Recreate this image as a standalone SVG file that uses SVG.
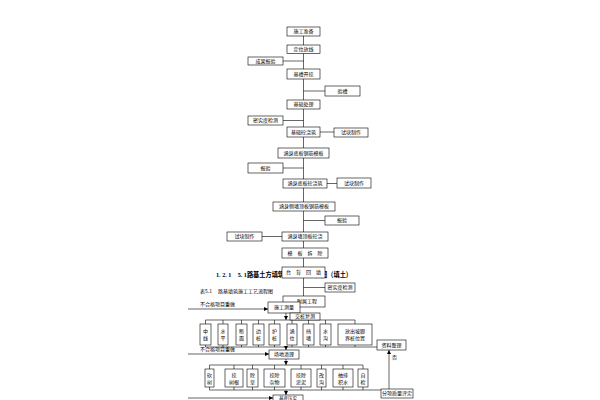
<svg xmlns="http://www.w3.org/2000/svg" width="600" height="400" viewBox="0 0 600 400">
<defs>
<marker id="ah" markerWidth="4" markerHeight="4" refX="4" refY="2" orient="auto" markerUnits="userSpaceOnUse"><path d="M0,0 L4,2 L0,4 Z" fill="#000"/></marker>
<style>
.b{fill:#fff;stroke:#000;stroke-width:0.6}
.t{font-family:"Noto Sans CJK SC","Liberation Sans",sans-serif;font-size:5px;fill:#000;text-anchor:middle}
.l{font-family:"Noto Sans CJK SC","Liberation Sans",sans-serif;font-size:5px;fill:#000}
.c{fill:none;stroke:#000;stroke-width:0.6}
.h{font-family:"Liberation Serif","Noto Sans CJK SC",serif;font-size:7px;font-weight:bold;fill:#000}
</style>
</defs>
<rect width="600" height="400" fill="#fff"/>
<g id="connectors">
<path class="c" d="M303.5,36 V296"/>
<path class="c" d="M283,61 H303.5 M303.5,91 H325 M283,120.5 H303.5 M320,132 H334 M283,168 H303.5 M327,183.5 H337 M303.5,220.5 H325 M262,236.5 H282 M303.5,287.5 H325"/>
<path class="c" d="M188,309 H268" marker-end="url(#ah)"/>
<path class="c" d="M286,313 V320" marker-end="url(#ah)"/>
<path class="c" d="M205.5,320 H355"/>
<path class="c" d="M205.5,320 V324 M223,320 V324 M241.5,320 V324 M258.5,320 V324 M274.5,320 V324 M292,320 V324 M308.5,320 V324 M325.5,320 V324 M355,320 V324"/>
<path class="c" d="M205.5,345 V347 M223,345 V347 M241.5,345 V347 M258.5,345 V347 M274.5,345 V347 M292,345 V347 M308.5,345 V347 M325.5,345 V347 M355,345 V347"/>
<path class="c" d="M205.5,347 H377"/>
<path class="c" d="M286,347 V350" marker-end="url(#ah)"/>
<path class="c" d="M188,354 H269" marker-end="url(#ah)"/>
<path class="c" d="M286,359 V365" marker-end="url(#ah)"/>
<path class="c" d="M209.5,365 H363"/>
<path class="c" d="M209.5,365 V369 M234,365 V369 M252.5,365 V369 M274.5,365 V369 M301,365 V369 M321.5,365 V369 M343,365 V369 M363,365 V369"/>
<path class="c" d="M209.5,387 V390 M234,387 V390 M252.5,387 V390 M274.5,387 V390 M301,387 V390 M321.5,387 V390 M343,387 V390 M363,387 V390"/>
<path class="c" d="M209.5,390 H381"/>
<path class="c" d="M286,390 V395" marker-end="url(#ah)"/>
<path class="c" d="M188,398 H273" marker-end="url(#ah)"/>
<path class="c" d="M389,389 V350" marker-end="url(#ah)"/>
</g>
<text class="h" x="216" y="277" textLength="136" lengthAdjust="spacingAndGlyphs">1. 2. 1　5. 1路基土方填筑施工工艺流程图（填土）</text>
<text class="l" x="200" y="293">表5.1　 路基填筑施工工艺流程图</text>
<text class="l" x="200" y="306">不合格项目重做</text>
<text class="l" x="200" y="351">不合格项目重做</text>
<text class="l" x="392" y="359">否</text>
<g id="n1"><rect class="b" x="287" y="27" width="33" height="9"/><text class="t" x="303.5" y="33.3">施工准备</text></g>
<g id="n2"><rect class="b" x="287" y="45" width="33" height="8.5"/><text class="t" x="303.5" y="51">定位放线</text></g>
<g id="n3"><rect class="b" x="248" y="57" width="35" height="8"/><text class="t" x="265.5" y="62.8">成果报验</text></g>
<g id="n4"><rect class="b" x="287" y="69" width="33" height="10"/><text class="t" x="303.5" y="75.8">基槽开挖</text></g>
<g id="n5"><rect class="b" x="325" y="86" width="35" height="10"/><text class="t" x="342.5" y="92.8">验槽</text></g>
<g id="n6"><rect class="b" x="287" y="100" width="33" height="9"/><text class="t" x="303.5" y="106.3">基础处理</text></g>
<g id="n7"><rect class="b" x="248" y="116" width="35" height="9"/><text class="t" x="265.5" y="122.3">密实度检测</text></g>
<g id="n8"><rect class="b" x="287" y="127" width="33" height="10"/><text class="t" x="303.5" y="133.8">基础砼浇筑</text></g>
<g id="n9"><rect class="b" x="334" y="128" width="34" height="9"/><text class="t" x="351" y="134.3">试块制作</text></g>
<g id="n10"><rect class="b" x="278" y="148" width="51" height="10"/><text class="t" x="303.5" y="154.8">涵身底板钢筋模板</text></g>
<g id="n11"><rect class="b" x="248" y="163" width="35" height="10"/><text class="t" x="265.5" y="169.8">报验</text></g>
<g id="n12"><rect class="b" x="283" y="179" width="44" height="9"/><text class="t" x="305" y="185.3">涵身底板砼浇筑</text></g>
<g id="n13"><rect class="b" x="337" y="178" width="34" height="10"/><text class="t" x="354" y="184.8">试块制作</text></g>
<g id="n14"><rect class="b" x="273" y="202" width="62" height="9"/><text class="t" x="304" y="208.3">涵身侧墙顶板钢筋模板</text></g>
<g id="n15"><rect class="b" x="325" y="216" width="34" height="9"/><text class="t" x="342" y="222.3">报验</text></g>
<g id="n16"><rect class="b" x="227" y="232" width="35" height="9"/><text class="t" x="244.5" y="238.3">试块制作</text></g>
<g id="n17"><rect class="b" x="282" y="232" width="46" height="9"/><text class="t" x="305" y="238.3">涵身墙顶板砼浇</text></g>
<g id="n18"><rect class="b" x="282" y="248" width="46" height="10"/><text class="t" x="305" y="254.8">模　板　拆　除</text></g>
<g id="n19"><rect class="b" x="282" y="267" width="43" height="11"/><text class="t" x="303.5" y="274.3">台　背　回　填</text></g>
<g id="n20"><rect class="b" x="325" y="283" width="30" height="9"/><text class="t" x="340" y="289.3">密实度检测</text></g>
<g id="n21"><rect class="b" x="283" y="296" width="42" height="11"/><text class="t" x="307" y="303.3">附属工程</text></g>
<g id="n22"><rect class="b" x="268" y="302" width="32" height="11"/><text class="t" x="284" y="309.3">施工测量</text></g>
<g id="n23"><rect class="b" x="290" y="313" width="30" height="7"/><text class="t" x="305" y="318.3">交桩复测</text></g>
<g id="r1a"><rect class="b" x="200" y="324" width="11" height="21"/><text class="t" x="205.5" y="333">中</text><text class="t" x="205.5" y="340">线</text></g>
<g id="r1b"><rect class="b" x="218" y="324" width="10" height="21"/><text class="t" x="223" y="333">水</text><text class="t" x="223" y="340">平</text></g>
<g id="r1c"><rect class="b" x="236" y="324" width="11" height="21"/><text class="t" x="241.5" y="333">断</text><text class="t" x="241.5" y="340">面</text></g>
<g id="r1d"><rect class="b" x="253" y="324" width="11" height="21"/><text class="t" x="258.5" y="333">边</text><text class="t" x="258.5" y="340">桩</text></g>
<g id="r1e"><rect class="b" x="269" y="324" width="11" height="21"/><text class="t" x="274.5" y="333">护</text><text class="t" x="274.5" y="340">桩</text></g>
<g id="r1f"><rect class="b" x="287" y="324" width="10" height="21"/><text class="t" x="292" y="333">涵</text><text class="t" x="292" y="340">位</text></g>
<g id="r1g"><rect class="b" x="303" y="324" width="11" height="21"/><text class="t" x="308.5" y="333">挡</text><text class="t" x="308.5" y="340">墙</text></g>
<g id="r1h"><rect class="b" x="320" y="324" width="11" height="21"/><text class="t" x="325.5" y="333">水</text><text class="t" x="325.5" y="340">沟</text></g>
<g id="r1i"><rect class="b" x="338" y="324" width="34" height="21"/><text class="t" x="355" y="333">放出坡脚</text><text class="t" x="355" y="340">界桩位置</text></g>
<g id="n24"><rect class="b" x="269" y="350" width="30" height="9"/><text class="t" x="284" y="356.3">场地清理</text></g>
<g id="n25"><rect class="b" x="377" y="340" width="29" height="10"/><text class="t" x="391.5" y="346.8">资料整理</text></g>
<g id="r2a"><rect class="b" x="205" y="369" width="9" height="18"/><text class="t" x="209.5" y="377">砍</text><text class="t" x="209.5" y="383.5">树</text></g>
<g id="r2b"><rect class="b" x="225" y="369" width="18" height="18"/><text class="t" x="234" y="377">挖</text><text class="t" x="234" y="383.5">树根</text></g>
<g id="r2c"><rect class="b" x="247" y="369" width="11" height="18"/><text class="t" x="252.5" y="377">除</text><text class="t" x="252.5" y="383.5">草</text></g>
<g id="r2d"><rect class="b" x="264" y="369" width="21" height="18"/><text class="t" x="274.5" y="377">挖除</text><text class="t" x="274.5" y="383.5">杂物</text></g>
<g id="r2e"><rect class="b" x="291" y="369" width="20" height="18"/><text class="t" x="301" y="377">挖除</text><text class="t" x="301" y="383.5">淤泥</text></g>
<g id="r2f"><rect class="b" x="317" y="369" width="9" height="18"/><text class="t" x="321.5" y="377">改</text><text class="t" x="321.5" y="383.5">沟</text></g>
<g id="r2g"><rect class="b" x="333" y="369" width="20" height="18"/><text class="t" x="343" y="377">抽排</text><text class="t" x="343" y="383.5">积水</text></g>
<g id="r2h"><rect class="b" x="358" y="369" width="10" height="18"/><text class="t" x="363" y="377">自</text><text class="t" x="363" y="383.5">检</text></g>
<g id="n26"><rect class="b" x="381" y="389" width="32" height="9"/><text class="t" x="397" y="395.3">分项质量评定</text></g>
<g id="n27"><rect class="b" x="273" y="395" width="30" height="10"/><text class="t" x="288" y="399.8" style="font-size:4.5px">基底压实</text></g>
</svg>
